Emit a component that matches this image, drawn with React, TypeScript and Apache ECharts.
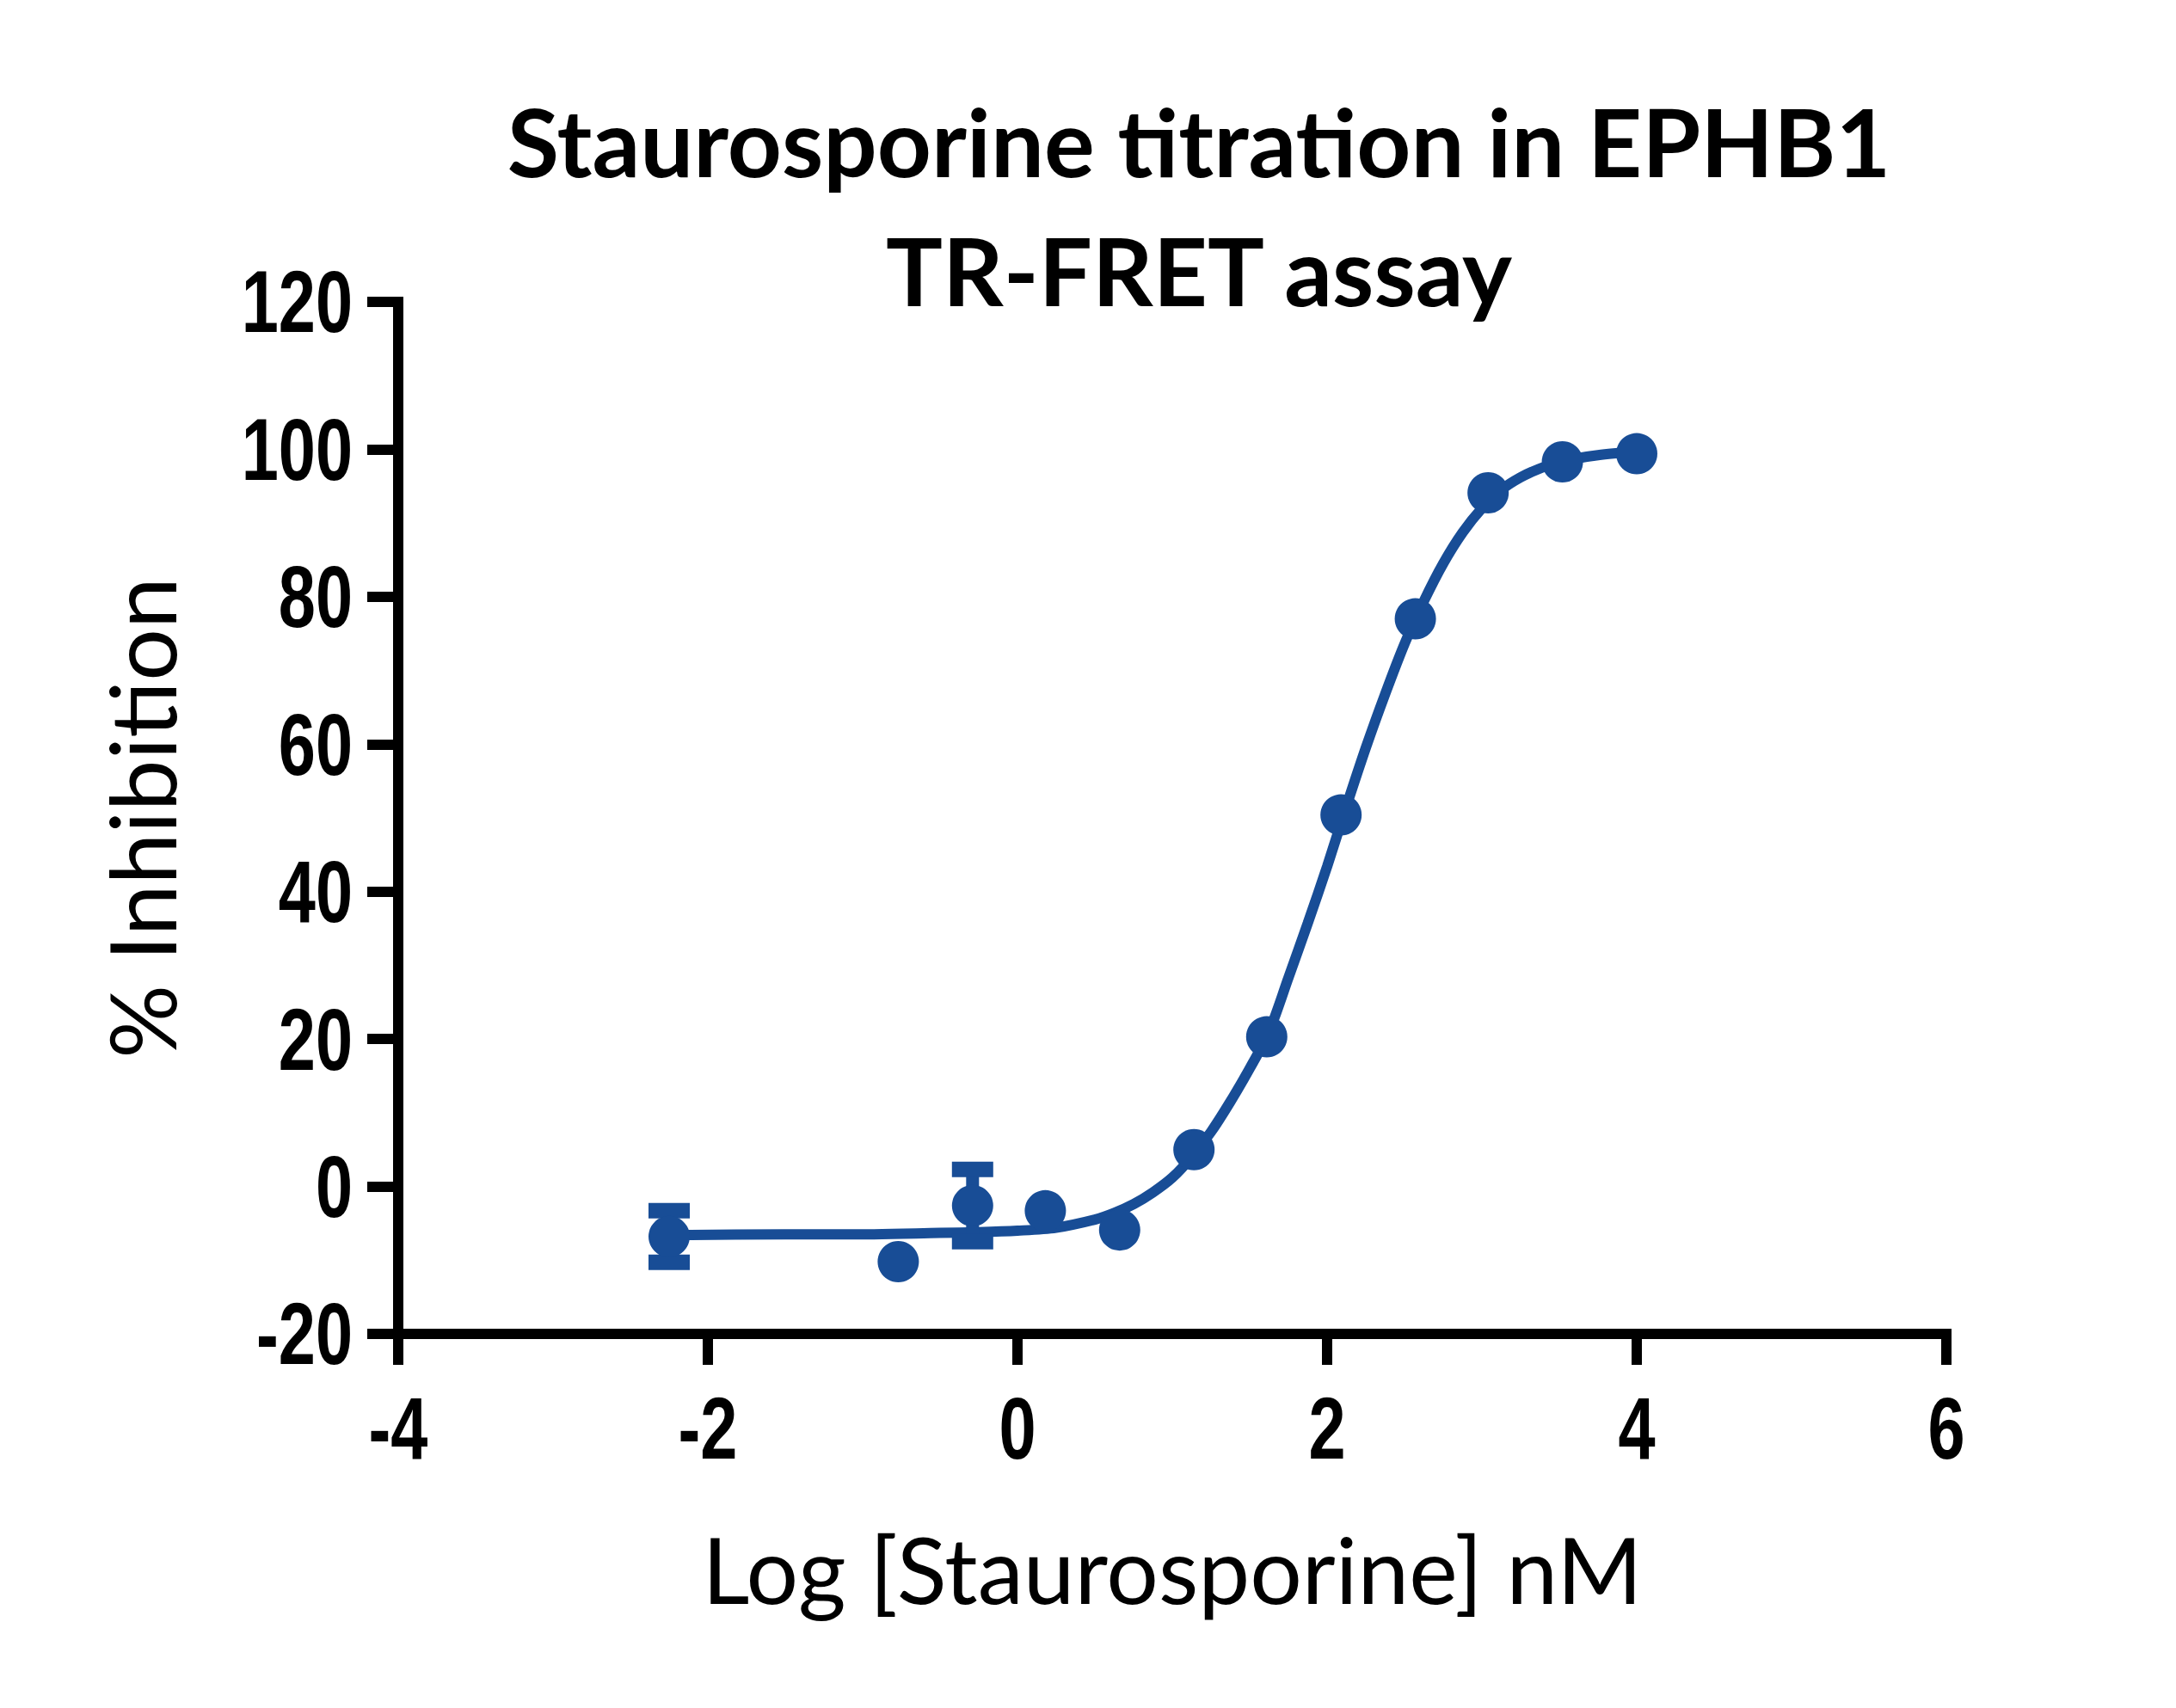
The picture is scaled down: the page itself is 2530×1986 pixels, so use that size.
import React, { useEffect, useRef } from 'react';
import * as echarts from 'echarts';

// measured points (log nM, % inhibition, SD)
const logConc = [-2.25, -0.77, -0.29, 0.18, 0.66, 1.14, 1.61, 2.09, 2.57, 3.04, 3.52, 4.0];
const inhibition = [-6.8, -10.2, -2.6, -3.3, -5.9, 5.0, 20.3, 50.4, 77.0, 94.1, 98.3, 99.4];
const sdev = [3.5, 0, 4.9, 0, 0, 0, 0, 0, 0, 0, 0, 0];

// fitted curve
const fitX = [-2.25, -1.5, -1.0, -0.5, -0.25, 0, 0.25, 0.5, 0.625, 0.75, 0.875, 1.0, 1.125, 1.25, 1.375, 1.5, 1.625, 1.75, 1.875, 2.0, 2.125, 2.25, 2.375, 2.5, 2.625, 2.75, 2.875, 3.0, 3.125, 3.25, 3.375, 3.5, 3.75, 4.0];
const fitY = [-6.6, -6.5, -6.5, -6.3, -6.2, -6.0, -5.6, -4.5, -3.6, -2.4, -0.8, 1.2, 4.0, 7.4, 11.5, 16.0, 21.0, 28.3, 35.7, 43.4, 51.6, 59.5, 66.8, 73.6, 79.4, 84.5, 88.7, 92.0, 94.5, 96.2, 97.4, 98.3, 99.2, 99.7];

// tick labels
const xTicks = [-4, -2, 0, 2, 4, 6];
const yTicks = [-20, 0, 20, 40, 60, 80, 100, 120];

const titleLines = ['Staurosporine titration in EPHB1', 'TR-FRET assay'];
const xTitle = 'Log [Staurosporine] nM';
const yTitle = '% Inhibition';

const BLUE = '#184d96';
const TEXT_FONT = 'Lato, sans-serif';
// condensed bold numbers: Liberation Sans squeezed horizontally
const TICK_FONT = 'bold 102px "Liberation Sans", Arial, sans-serif';
const TICK_SQUEEZE = 0.76;

const App: React.FC = () => {
  const chartRef = useRef<HTMLDivElement>(null);

  useEffect(() => {
    if (!chartRef.current) return;
    document.body.style.margin = '0';
    const chart = echarts.init(chartRef.current, null, { renderer: 'svg' });

    const points = logConc.map((x, i) => [x, inhibition[i]]);
    const bars = logConc
      .map((x, i) => [x, inhibition[i], sdev[i]])
      .filter(d => d[2] > 0);
    const curve = fitX.map((x, i) => [x, fitY[i]]);

    const titles = [
      {
        type: 'text',
        x: 1394,
        y: 163,
        style: {
          text: titleLines[0],
          font: `bold 110px ${TEXT_FONT}`,
          fill: '#000',
          textAlign: 'center',
          textVerticalAlign: 'middle'
        }
      },
      {
        type: 'text',
        x: 1394,
        y: 313,
        style: {
          text: titleLines[1],
          font: `bold 110px ${TEXT_FONT}`,
          fill: '#000',
          textAlign: 'center',
          textVerticalAlign: 'middle'
        }
      }
    ];

    const option = {
      animation: false,
      backgroundColor: '#ffffff',
      grid: { left: 463, top: 351, width: 1800, height: 1200 },
      graphic: titles,
      xAxis: {
        type: 'value',
        min: -4,
        max: 6,
        interval: 2,
        name: xTitle,
        nameLocation: 'middle',
        nameGap: 219,
        nameTextStyle: { fontFamily: TEXT_FONT, fontSize: 107, color: '#000' },
        axisLine: { onZero: false, lineStyle: { color: '#000', width: 12, cap: 'square' } },
        axisTick: { length: 36, lineStyle: { color: '#000', width: 12 } },
        axisLabel: { show: false },
        splitLine: { show: false }
      },
      yAxis: {
        type: 'value',
        min: -20,
        max: 120,
        interval: 20,
        name: yTitle,
        nameLocation: 'middle',
        nameGap: 246,
        nameTextStyle: { fontFamily: TEXT_FONT, fontSize: 107, color: '#000' },
        axisLine: { onZero: false, lineStyle: { color: '#000', width: 12, cap: 'square' } },
        axisTick: { length: 36, lineStyle: { color: '#000', width: 12 } },
        axisLabel: { show: false },
        splitLine: { show: false }
      },
      series: [
        {
          name: 'fit',
          type: 'line',
          data: curve,
          smooth: 0.3,
          symbol: 'none',
          lineStyle: { color: BLUE, width: 12 },
          z: 2
        },
        {
          name: 'sd',
          type: 'custom',
          data: bars,
          z: 3,
          renderItem: (params: any, api: any) => {
            const x = api.value(0);
            const y = api.value(1);
            const sd = api.value(2);
            const top = api.coord([x, y + sd]);
            const bottom = api.coord([x, y - sd]);
            const capW = 48;
            const capH = 18;
            const stemW = 15;
            return {
              type: 'group',
              children: [
                {
                  type: 'rect',
                  shape: { x: top[0] - stemW / 2, y: top[1], width: stemW, height: bottom[1] - top[1] },
                  style: { fill: BLUE }
                },
                {
                  type: 'rect',
                  shape: { x: top[0] - capW / 2, y: top[1] - capH / 2, width: capW, height: capH },
                  style: { fill: BLUE }
                },
                {
                  type: 'rect',
                  shape: { x: bottom[0] - capW / 2, y: bottom[1] - capH / 2, width: capW, height: capH },
                  style: { fill: BLUE }
                }
              ]
            };
          }
        },
        {
          name: 'data',
          type: 'scatter',
          data: points,
          symbol: 'circle',
          symbolSize: 48,
          itemStyle: { color: BLUE, opacity: 1 },
          z: 4
        }
      ]
    };

    chart.setOption(option);

    // tick numbers placed through the axis scales, squeezed to a condensed look
    const yLabels = yTicks.map(v => {
      const p = chart.convertToPixel({ gridIndex: 0 }, [xTicks[0], v]);
      return {
        type: 'text',
        x: p[0] - 53,
        y: p[1],
        scaleX: TICK_SQUEEZE,
        style: {
          text: String(v),
          font: TICK_FONT,
          fill: '#000',
          textAlign: 'right',
          textVerticalAlign: 'middle'
        }
      };
    });
    const xLabels = xTicks.map(v => {
      const p = chart.convertToPixel({ gridIndex: 0 }, [v, yTicks[0]]);
      return {
        type: 'text',
        x: p[0],
        y: p[1] + 110,
        scaleX: TICK_SQUEEZE,
        style: {
          text: String(v),
          font: TICK_FONT,
          fill: '#000',
          textAlign: 'center',
          textVerticalAlign: 'middle'
        }
      };
    });
    chart.setOption({ graphic: [...titles, ...yLabels, ...xLabels] });

    const handleResize = () => {
      chart.resize();
    };
    window.addEventListener('resize', handleResize);

    return () => {
      window.removeEventListener('resize', handleResize);
      chart.dispose();
    };
  }, []);

  return <div ref={chartRef} style={{ width: '2530px', height: '1986px' }} />;
};

export default App;
